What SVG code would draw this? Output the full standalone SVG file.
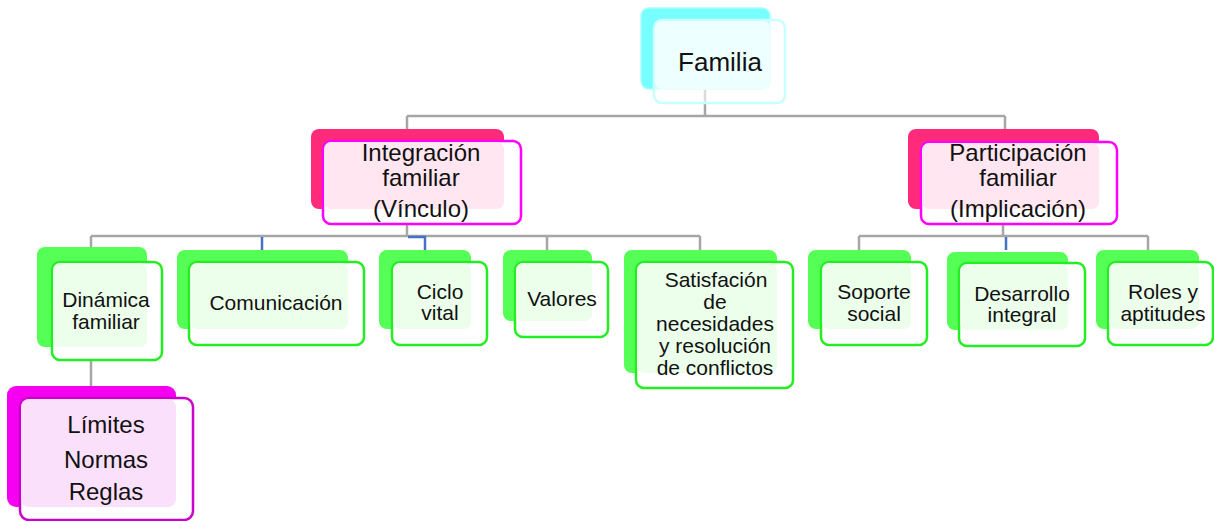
<svg xmlns="http://www.w3.org/2000/svg" width="1214" height="521" viewBox="0 0 1214 521">
<style>
text{font-family:"Liberation Sans",Arial,sans-serif;fill:#111;text-anchor:middle}
.c{fill:none;stroke:#A6A6A6;stroke-width:2.5}
.b{fill:none;stroke:#4472C4;stroke-width:2.5}
.cyB{fill:#77FFFF;stroke:#A8FFFF;stroke-width:1.5}
.cyF{fill:#FFFFFF;fill-opacity:0.6;stroke:#C8FFFF;stroke-width:2.5}
.cyP{fill:#EEFFFF}
.pkB{fill:#FF2A7A}
.pkF{fill:#FFFFFF;stroke:#FF00FF;stroke-width:2.5}
.pkP{fill:#FFE6F0}
.gB{fill:#55FF55}
.gF{fill:#FFFFFF;stroke:#22EE22;stroke-width:2.5}
.gP{fill:#EBFFEB}
.mB{fill:#F500F0}
.mF{fill:#FFFFFF;stroke:#CC00CC;stroke-width:2.5}
.mP{fill:#FBE0FB}
.t26{font-size:26px}
.t24{font-size:24px}
.t21{font-size:21px}
</style>
<g id="connectors">
<path class="c" d="M705,90 V116 M407,116 H1005 M407,116 V129 M1005,116 V129"/>
<path class="c" d="M407,224 V236 M1003,224 V236"/>
<path class="c" d="M91,236 H700 M91,236 V398 M547,236 V250 M700,236 V250"/>
<path class="c" d="M859,236 H1148 M859,236 V250 M1148,236 V250"/>
<path class="b" d="M262,237 V250 M408,237 H425 V250 M1006,237 V250"/>
</g>
<g id="familia">
<rect class="cyB" x="641" y="8" width="129" height="81" rx="8"/>
<rect class="cyF" x="654" y="20" width="131" height="83" rx="8"/>
<rect class="cyP" x="655" y="21" width="115" height="68" rx="7"/>
<text class="t26" x="720" y="71">Familia</text>
</g>
<g id="integracion">
<rect class="pkB" x="311" y="129" width="193" height="80" rx="8"/>
<rect class="pkF" x="323" y="141" width="198" height="83" rx="8"/>
<rect class="pkP" x="324" y="142" width="180" height="67" rx="7"/>
<text class="t24" x="421" y="161">Integración</text>
<text class="t24" x="421" y="186">familiar</text>
<text class="t24" x="421" y="217">(Vínculo)</text>
</g>
<g id="participacion">
<rect class="pkB" x="908" y="129" width="191" height="80" rx="8"/>
<rect class="pkF" x="921" y="142" width="196" height="82" rx="8"/>
<rect class="pkP" x="922" y="143" width="177" height="66" rx="7"/>
<text class="t24" x="1018" y="161">Participación</text>
<text class="t24" x="1018" y="186">familiar</text>
<text class="t24" x="1018" y="217">(Implicación)</text>
</g>
<g id="dinamica">
<rect class="gB" x="37" y="247" width="110" height="100" rx="8"/>
<rect class="gF" x="52" y="262" width="110" height="98" rx="8"/>
<rect class="gP" x="53" y="263" width="94" height="84" rx="7"/>
<text class="t21" x="106" y="307">Dinámica</text>
<text class="t21" x="106" y="329">familiar</text>
</g>
<g id="comunicacion">
<rect class="gB" x="177" y="250" width="171" height="79" rx="8"/>
<rect class="gF" x="189" y="262" width="175" height="83" rx="8"/>
<rect class="gP" x="190" y="263" width="158" height="66" rx="7"/>
<text class="t21" x="276" y="310">Comunicación</text>
</g>
<g id="ciclo">
<rect class="gB" x="379" y="250" width="92" height="79" rx="8"/>
<rect class="gF" x="392" y="262" width="95" height="83" rx="8"/>
<rect class="gP" x="393" y="263" width="78" height="66" rx="7"/>
<text class="t21" x="440" y="299">Ciclo</text>
<text class="t21" x="440" y="320">vital</text>
</g>
<g id="valores">
<rect class="gB" x="503" y="250" width="89" height="71" rx="8"/>
<rect class="gF" x="515" y="262" width="93" height="75" rx="8"/>
<rect class="gP" x="516" y="263" width="76" height="58" rx="7"/>
<text class="t21" x="562" y="306">Valores</text>
</g>
<g id="satisfacion">
<rect class="gB" x="624" y="250" width="153" height="123" rx="8"/>
<rect class="gF" x="636" y="262" width="157" height="126" rx="8"/>
<rect class="gP" x="637" y="263" width="140" height="110" rx="7"/>
<text class="t21" x="716" y="287">Satisfación</text>
<text class="t21" x="715" y="309">de</text>
<text class="t21" x="715" y="331">necesidades</text>
<text class="t21" x="715" y="353">y resolución</text>
<text class="t21" x="715" y="375">de conflictos</text>
</g>
<g id="soporte">
<rect class="gB" x="808" y="250" width="103" height="79" rx="8"/>
<rect class="gF" x="821" y="262" width="106" height="83" rx="8"/>
<rect class="gP" x="822" y="263" width="89" height="66" rx="7"/>
<text class="t21" x="874" y="299">Soporte</text>
<text class="t21" x="874" y="321">social</text>
</g>
<g id="desarrollo">
<rect class="gB" x="947" y="252" width="121" height="78" rx="8"/>
<rect class="gF" x="959" y="263" width="126" height="83" rx="8"/>
<rect class="gP" x="960" y="264" width="108" height="66" rx="7"/>
<text class="t21" x="1022" y="301">Desarrollo</text>
<text class="t21" x="1022" y="322">integral</text>
</g>
<g id="roles">
<rect class="gB" x="1096" y="250" width="103" height="79" rx="8"/>
<rect class="gF" x="1108" y="262" width="105" height="83" rx="8"/>
<rect class="gP" x="1109" y="263" width="90" height="66" rx="7"/>
<text class="t21" x="1163" y="299">Roles y</text>
<text class="t21" x="1163" y="321">aptitudes</text>
</g>
<g id="limites">
<rect class="mB" x="7" y="386" width="169" height="121" rx="9"/>
<rect class="mF" x="20" y="398" width="173" height="122" rx="9"/>
<rect class="mP" x="21" y="399" width="155" height="108" rx="8"/>
<text class="t24" x="106" y="433">Límites</text>
<text class="t24" x="106" y="468">Normas</text>
<text class="t24" x="106" y="500">Reglas</text>
</g>
</svg>
